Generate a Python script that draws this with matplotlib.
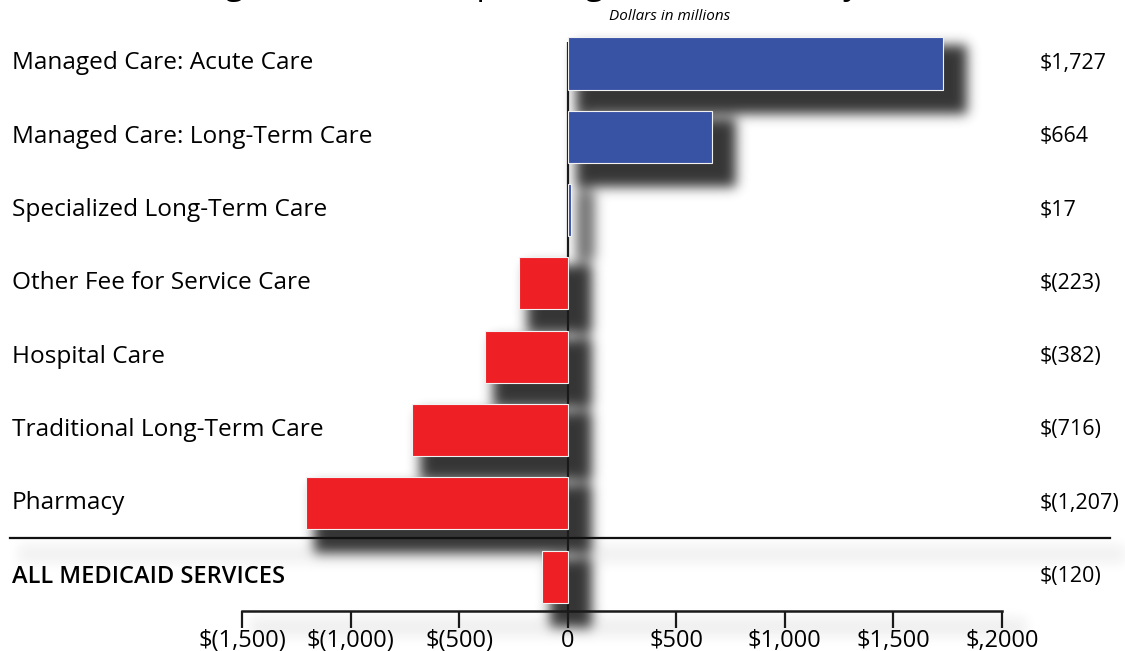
import matplotlib
matplotlib.use("Agg")
import numpy as np
import matplotlib.pyplot as plt
from matplotlib.transforms import blended_transform_factory

categories = ["Managed Care: Acute Care", "Managed Care: Long-Term Care",
              "Specialized Long-Term Care", "Other Fee for Service Care",
              "Hospital Care", "Traditional Long-Term Care", "Pharmacy",
              "ALL MEDICAID SERVICES"]
values = [1727, 664, 17, -223, -382, -716, -1207, -120]
value_labels = ["$1,727", "$664", "$17", "$(223)", "$(382)", "$(716)",
                "$(1,207)", "$(120)"]
tick_values = [-1500, -1000, -500, 0, 500, 1000, 1500, 2000]
tick_labels = ["$(1,500)", "$(1,000)", "$(500)", "0", "$500", "$1,000",
               "$1,500", "$,2000"]
title = "Change in Medicaid Spending 2015 to 2016 by Service"
subtitle = "Dollars in millions"

BLUE = "#3953A4"
RED = "#EE1F25"
FONT = "Open Sans"

W, H = 1125, 651
fig = plt.figure(figsize=(W / 100, H / 100), dpi=100)
fig.patch.set_facecolor("white")

row0, sp = 63.5, 73.3
bottom_px = 610.5
top_row = -0.62
bot_row = (bottom_px - row0) / sp
top_px = row0 + top_row * sp
ax = fig.add_axes([242 / W, 1 - bottom_px / H, 760 / W, (bottom_px - top_px) / H])
ax.set_xlim(-1500, 2000)
ax.set_ylim(bot_row, top_row)
ax.set_facecolor("none")

ypos = list(range(len(categories)))
colors = [BLUE if v >= 0 else RED for v in values]
BAR_H = 0.71
SEP_ROW = 6.48

# zero line
ax.plot([0, 0], [bot_row, -0.3], color="#1a1a1a", lw=1.6, zorder=1,
        solid_capstyle="butt")

bars = ax.barh(ypos, values, height=BAR_H, color=colors, edgecolor="#f2f2f2",
               linewidth=0.8, zorder=3)

# spines / ticks
for s in ["top", "right", "left"]:
    ax.spines[s].set_visible(False)
ax.spines["bottom"].set_bounds(-1500, 2000)
ax.spines["bottom"].set_linewidth(1.8)
ax.spines["bottom"].set_color("#1a1a1a")
ax.set_xticks(tick_values)
ax.set_xticklabels(tick_labels, fontsize=17, family=FONT)
ax.tick_params(axis="x", direction="out", length=12, width=1.6, color="#1a1a1a",
               pad=1)
ax.set_yticks([])

# separator line
trans_fx = blended_transform_factory(fig.transFigure, ax.transData)
ax.plot([10 / W, 1110 / W], [SEP_ROW, SEP_ROW], transform=trans_fx,
        color="#111111", lw=1.6, clip_on=False, zorder=2)

# ---- blurred drop shadows (figure pixel space) ----
mask = np.zeros((H, W))


def add_box(p0, p1, strength, grow=8):
    (x0, y0), (x1, y1) = p0, p1
    c0, c1 = sorted([x0, x1])
    r0, r1 = sorted([H - y0, H - y1])
    r0, r1 = int(round(r0 - grow)), int(round(r1 + grow))
    c0, c1 = int(round(c0 - grow)), int(round(c1 + grow))
    if c1 <= c0:
        c1 = c0 + 1
    sub = mask[max(r0, 0):max(r1, 0), max(c0, 0):max(c1, 0)]
    np.maximum(sub, strength, out=sub)


td = ax.transData
for b in bars:
    x0, y0 = b.get_x(), b.get_y()
    strength = 1.0 if abs(b.get_width()) > 50 else 0.7
    add_box(td.transform((x0, y0)),
            td.transform((x0 + b.get_width(), y0 + b.get_height())), strength)
zx, zy0 = td.transform((0, -0.3))
_, zy1 = td.transform((0, bot_row))
add_box((zx - 1.5, zy0), (zx + 1.5, zy1), 0.4, grow=4)
ax0, ay = td.transform((-1500, bot_row))
ax1, _ = td.transform((2000, bot_row))
add_box((ax0, ay - 1), (ax1, ay + 1), 0.08)
_, sy = td.transform((0, SEP_ROW))
add_box((10, sy - 1), (1110, sy + 1), 0.07)

off = 16
shifted = np.zeros_like(mask)
shifted[off:, off:] = mask[:-off, :-off]


def gblur(img, sigma):
    k = np.arange(-int(3 * sigma), int(3 * sigma) + 1)
    kern = np.exp(-k ** 2 / (2 * sigma ** 2))
    kern /= kern.sum()
    out = np.apply_along_axis(lambda r: np.convolve(r, kern, mode="same"), 1, img)
    return np.apply_along_axis(lambda c: np.convolve(c, kern, mode="same"), 0, out)


blur = gblur(shifted, 6.0)
rgba = np.zeros((H, W, 4))
rgba[..., :3] = 0.12
rgba[..., 3] = np.clip(blur * 0.9, 0, 1)
fig.figimage(rgba, xo=0, yo=0, origin="upper", zorder=-1)

# category labels
for i, (c, lab) in enumerate(zip(categories, value_labels)):
    bold = c.isupper()
    ax.text(12 / W, i, c, transform=trans_fx, ha="left", va="center",
            fontsize=17.0 if bold else 17.6, family=FONT,
            fontweight="semibold" if bold else "normal", color="black")
    ax.text(1040 / W, i, lab, transform=trans_fx, ha="left", va="center",
            fontsize=15.5, family=FONT, color="black")

fig.text(670 / W, 1 - 16 / H, subtitle, ha="center", va="center", fontsize=11,
         style="italic", family=FONT)
fig.text(562 / W, 1 + 6.5 / H, title, ha="center", va="baseline", fontsize=24,
         family=FONT)

fig.savefig("out.png", dpi=100)
